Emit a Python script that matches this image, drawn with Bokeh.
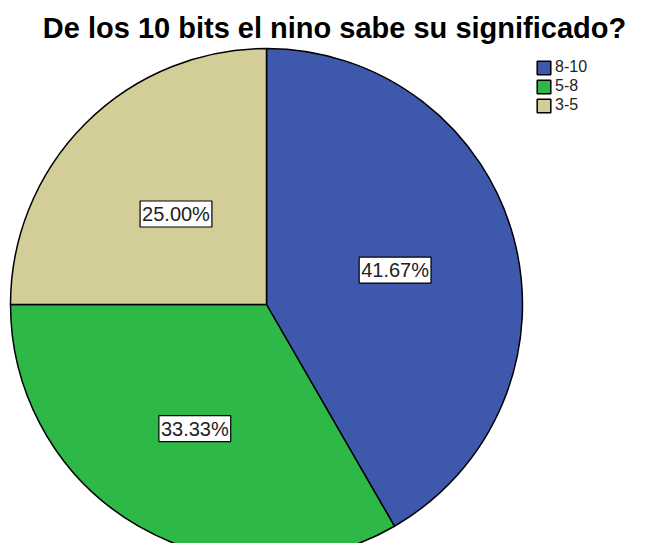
import math
from bokeh.plotting import figure
from bokeh.models import ColumnDataSource, Label, Legend, LegendItem, Range1d
from bokeh.embed import file_html
from bokeh.resources import INLINE

title_text = "De los 10 bits el nino sabe su significado?"
categories = ["8-10", "5-8", "3-5"]
percents = [41.67, 33.33, 25.00]
labels = ["41.67%", "33.33%", "25.00%"]
colors = ["#3E58AC", "#2EB848", "#D3CE97"]

W, H = 637, 543
p = figure(width=W, height=H, output_backend="svg", toolbar_location=None,
           x_range=Range1d(0, W), y_range=Range1d(0, H), min_border=0,
           outline_line_color=None)
p.axis.visible = False
p.grid.visible = False
p.background_fill_color = "white"
p.border_fill_color = "white"

cx, cy, R = 266, 239, 256
total = sum(percents)
starts, ends, mids = [], [], []
cum = 0.0
for v in percents:
    a0 = math.pi / 2 - 2 * math.pi * cum / total
    cum += v
    a1 = math.pi / 2 - 2 * math.pi * cum / total
    starts.append(a0)
    ends.append(a1)
    mids.append((a0 + a1) / 2)

src = ColumnDataSource(dict(cat=categories, start=starts, end=ends, color=colors))
r = p.wedge(x=cx, y=cy, radius=R, start_angle="start", end_angle="end",
            direction="clock", fill_color="color", line_color="black",
            line_width=1.5, source=src)

frac = [0.52, 0.56, 0.50]
for lab, m, f in zip(labels, mids, frac):
    p.add_layout(Label(x=cx + f * R * math.cos(m), y=cy + f * R * math.sin(m),
                       text=lab, text_align="center", text_baseline="middle",
                       text_font="Liberation Sans", text_font_size="20px",
                       text_color="#222222",
                       background_fill_color="white", border_line_color="black",
                       border_line_width=1.2, padding=2))

p.add_layout(Label(x=334, y=516, text=title_text, text_align="center",
                   text_baseline="middle", text_font="Liberation Sans",
                   text_font_style="bold", text_font_size="29px",
                   text_color="black"))

items = [LegendItem(label=c, renderers=[r], index=i) for i, c in enumerate(categories)]
leg = Legend(items=items, location=(535, 429), orientation="vertical",
             glyph_width=17, glyph_height=17, label_height=17, spacing=1,
             label_standoff=3, padding=0, margin=0,
             label_text_font="Liberation Sans", label_text_font_size="16px",
             label_text_color="#222222",
             background_fill_alpha=0, border_line_color=None)
p.add_layout(leg, "center")

open("out.html", "w").write(file_html(p, INLINE))
